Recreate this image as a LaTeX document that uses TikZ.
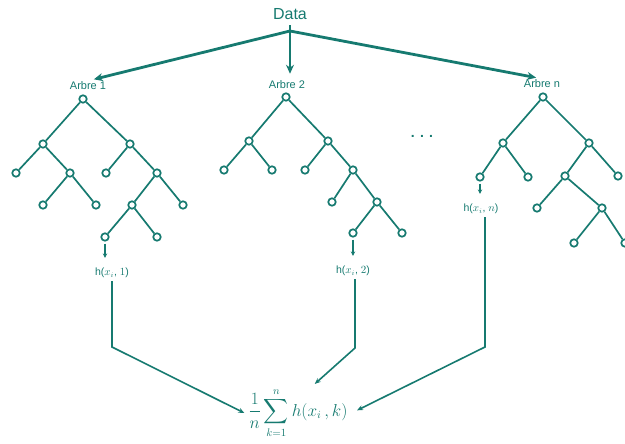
\documentclass[tikz,border=0pt]{standalone}
\usepackage{fontspec}
\setmainfont{Liberation Sans}
\usepackage{amsmath}
\usetikzlibrary{arrows.meta}
\definecolor{sarcelle}{RGB}{22,122,112}

\begin{document}
\begin{tikzpicture}[x=1pt, y=-1pt, color=sarcelle,
    vertex/.style={circle, draw, fill=white, line width=1.7pt, minimum size=7.5pt, inner sep=0pt},
    branch/.style={line width=1.7pt},
    titre/.style={font=\fontsize{11}{13}\selectfont, inner sep=1pt},
    sortie/.style={font=\fontsize{10.5}{12}\selectfont, inner sep=1pt},
    feed/.style={line width=2.8pt, -{Stealth[length=9pt,width=8pt]}},
    tick/.style={line width=1.3pt, -{Stealth[length=4.5pt,width=4.5pt]}},
    gather/.style={line width=1.6pt, -{Stealth[length=6pt,width=5pt]}}]
\useasboundingbox (0,0) rectangle (625,444);

\node at(290,14)(data){\fontsize{16}{18}\selectfont Data};
\coordinate (split) at (290,31);

\node[titre] at(88,86)(arbre1){Arbre 1};
\node[titre] at(287,85)(arbre2){Arbre 2};
\node[titre] at(542,84)(arbren){Arbre n};
\node at(422,136)(etc){\fontsize{14}{16}\selectfont\textbf{. . .}};

\draw[line width=2.8pt] (data.south) ++(0,2) -- (split);
\draw[feed, shorten >=6pt] (split) -- (arbre1.north);
\draw[feed, shorten >=6pt] (split) -- (split|-arbre2.north);
\draw[feed, shorten >=6pt] (split) -- (arbren.north);

% arbre 1
\node[vertex] at(83,99)(n1){};
\node[vertex] at(43,144)(n1l){};
\node[vertex] at(130,144)(n1r){};
\node[vertex] at(16,173)(n1ll){};
\node[vertex] at(70,173)(n1lr){};
\node[vertex] at(43,205)(n1lrl){};
\node[vertex] at(96,205)(n1lrr){};
\node[vertex] at(106,173)(n1rl){};
\node[vertex] at(157,173)(n1rr){};
\node[vertex] at(132,205)(n1rrl){};
\node[vertex] at(183,205)(n1rrr){};
\node[vertex] at(105,237)(n1rrll){};
\node[vertex] at(157,237)(n1rrlr){};
\path[branch]
    (n1) edge (n1l) edge (n1r)
    (n1l) edge (n1ll) edge (n1lr)
    (n1lr) edge (n1lrl) edge (n1lrr)
    (n1r) edge (n1rl) edge (n1rr)
    (n1rr) edge (n1rrl) edge (n1rrr)
    (n1rrl) edge (n1rrll) edge (n1rrlr);

% arbre 2
\node[vertex] at(286,97)(n2){};
\node[vertex] at(249,141)(n2l){};
\node[vertex] at(328,141)(n2r){};
\node[vertex] at(224,170)(n2ll){};
\node[vertex] at(272,170)(n2lr){};
\node[vertex] at(305,170)(n2rl){};
\node[vertex] at(353,170)(n2rr){};
\node[vertex] at(332,202)(n2rrl){};
\node[vertex] at(377,202)(n2rrr){};
\node[vertex] at(353,233)(n2rrrl){};
\node[vertex] at(402,233)(n2rrrr){};
\path[branch]
    (n2) edge (n2l) edge (n2r)
    (n2l) edge (n2ll) edge (n2lr)
    (n2r) edge (n2rl) edge (n2rr)
    (n2rr) edge (n2rrl) edge (n2rrr)
    (n2rrr) edge (n2rrrl) edge (n2rrrr);

% arbre n
\node[vertex] at(543,97)(nn){};
\node[vertex] at(503,143)(nnl){};
\node[vertex] at(589,143)(nnr){};
\node[vertex] at(480,177)(nnll){};
\node[vertex] at(528,177)(nnlr){};
\node[vertex] at(565,176)(nnrl){};
\node[vertex] at(618,176)(nnrr){};
\node[vertex] at(537,208)(nnrll){};
\node[vertex] at(602,208)(nnrlr){};
\node[vertex] at(574,243)(nnrlrl){};
\node[vertex] at(625,243)(nnrlrr){};
\path[branch]
    (nn) edge (nnl) edge (nnr)
    (nnl) edge (nnll) edge (nnlr)
    (nnr) edge (nnrl) edge (nnrr)
    (nnrl) edge (nnrll) edge (nnrlr)
    (nnrlr) edge (nnrlrl) edge (nnrlrr);

% sorties
\node[sortie] at(112,273)(h1){h(\(x_i\), \(1\))};
\node[sortie] at(353,271)(h2){h(\(x_i\), \(2\))};
\node[sortie] at(481,209)(hn){h(\(x_i\), \(n\))};
\draw[tick, shorten <=2pt, shorten >=9pt] (n1rrll) -- (n1rrll|-h1.north);
\draw[tick, shorten <=2pt, shorten >=9pt] (n2rrrl) -- (n2rrrl|-h2.north);
\draw[tick, shorten <=2pt, shorten >=9pt] (nnll) -- (nnll|-hn.north);

\node[inner sep=4pt] at(298,413)(moyenne)
    {\fontsize{16}{18}\selectfont$\displaystyle\frac{1}{n}\sum_{k=1}^{n}h(x_i\,,k)$};

\coordinate (k1) at (112,347);
\coordinate (k2) at (355,348);
\coordinate (kn) at (485,347);
\draw[gather] (h1.south-|k1) ++(0,2) -- (k1) -- (moyenne.west);
\draw[gather] (h2.south-|k2) ++(0,2) -- (k2) -- (moyenne.60);
\draw[gather, shorten >=6pt] (hn.south-|kn) ++(0,2) -- (kn) -- (moyenne.east);
\end{tikzpicture}
\end{document}
